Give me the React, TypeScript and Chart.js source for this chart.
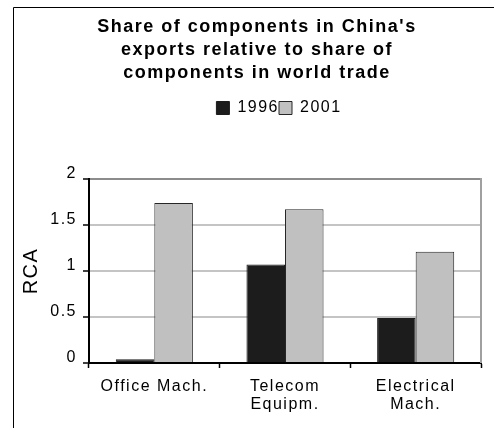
import React, { useEffect, useRef } from "react";
import { Chart, registerables } from "chart.js";

Chart.register(...registerables);

const titleLines = [
  "Share of components in China's",
  "exports relative to share of",
  "components in world trade",
];
const categories = [["Office Mach."], ["Telecom", "Equipm."], ["Electrical", "Mach."]];
const seriesNames = ["1996", "2001"];
const values1996 = [0.04, 1.07, 0.49];
const values2001 = [1.74, 1.67, 1.21];
const yTickValues = [0, 0.5, 1, 1.5, 2];
const yAxisTitle = "RCA";

const FONT = '"Liberation Sans", Arial, Helvetica, sans-serif';

const layoutPlugin = {
  id: "layoutTweaks",
  beforeInit(chart: any) {
    const legend = chart.legend;
    if (legend) {
      const orig = legend.fit;
      legend.fit = function () {
        orig.call(this);
        this.height += 53;
      };
    }
  },
  beforeUpdate(chart: any) {
    chart.ctx.letterSpacing = "1.5px";
  },
  afterLayout(chart: any) {
    if (chart.legend) {
      chart.legend.left += 22;
      chart.legend.right += 22;
    }
  },
  beforeDraw(chart: any) {
    chart.ctx.letterSpacing = "1.5px";
  },
  afterDraw(chart: any) {
    const { ctx, chartArea } = chart;
    ctx.save();
    ctx.strokeStyle = "#000";
    ctx.lineWidth = 1;
    ctx.beginPath();
    ctx.moveTo(13.5, chart.height);
    ctx.lineTo(13.5, 7.5);
    ctx.lineTo(chart.width, 7.5);
    ctx.stroke();
    ctx.strokeStyle = "#a0a0a0";
    ctx.lineWidth = 2;
    ctx.beginPath();
    ctx.moveTo(chartArea.right, chartArea.top - 1);
    ctx.lineTo(chartArea.right, chartArea.bottom);
    ctx.stroke();
    ctx.restore();
  },
};

export default function App() {
  const ref = useRef<HTMLCanvasElement | null>(null);

  useEffect(() => {
    if (!ref.current) return;
    Chart.defaults.font.family = FONT;
    Chart.defaults.color = "#000";
    const chart = new Chart(ref.current, {
      type: "bar",
      data: {
        labels: categories,
        datasets: [
          {
            label: seriesNames[0],
            data: values1996,
            backgroundColor: "#1c1c1c",
            borderColor: "#1c1c1c",
            borderWidth: 1,
            categoryPercentage: 0.59,
            barPercentage: 1,
          },
          {
            label: seriesNames[1],
            data: values2001,
            backgroundColor: "#c0c0c0",
            borderColor: "#262626",
            borderWidth: 1,
            categoryPercentage: 0.59,
            barPercentage: 1,
          },
        ],
      },
      options: {
        animation: false,
        responsive: true,
        maintainAspectRatio: false,
        layout: { padding: { left: 33, right: 13, top: 0, bottom: 2 } },
        plugins: {
          title: {
            display: true,
            text: titleLines,
            color: "#000",
            font: { size: 18, weight: "bold", lineHeight: 1.3, family: FONT },
            padding: { top: 15, bottom: 14.8 },
          },
          legend: {
            display: true,
            position: "top",
            labels: {
              color: "#000",
              font: { size: 16, family: FONT },
              boxWidth: 13,
              boxHeight: 13,
              padding: 0,
            },
          },
          tooltip: { enabled: false },
        },
        scales: {
          x: {
            type: "category",
            offset: true,
            grid: {
              display: true,
              drawOnChartArea: false,
              drawTicks: true,
              tickLength: 5,
              tickColor: "#000",
              tickWidth: 1.5,
              offset: true,
            },
            border: { display: true, color: "#000", width: 2 },
            ticks: {
              color: "#000",
              font: { size: 16, lineHeight: 1.1, family: FONT },
              padding: 10,
              maxRotation: 0,
              autoSkip: false,
            },
            afterFit: (s: any) => {
              s.height = 63;
            },
          },
          y: {
            min: 0,
            max: 2,
            afterBuildTicks: (s: any) => {
              s.ticks = yTickValues.map((v) => ({ value: v }));
            },
            ticks: {
              color: "#000",
              font: { size: 16, family: FONT },
              padding: 6,
              labelOffset: -5,
              callback: (v: any) => String(v),
            },
            grid: {
              color: (c: any) => {
                const v = c.tick ? c.tick.value : null;
                if (v === 2) return "#8c8c8c";
                if (v === 0) return "#000";
                return "#c4c4c4";
              },
              lineWidth: 2,
              tickColor: "#000",
              tickLength: 6,
              tickWidth: 1.5,
            },
            border: { display: true, color: "#000", width: 2 },
            title: {
              display: true,
              text: yAxisTitle,
              color: "#000",
              font: { size: 20, lineHeight: 1.2, family: FONT },
              padding: { top: -14, bottom: 0 },
            },
            afterFit: (s: any) => {
              s.width = 56;
            },
          },
        },
      },
      plugins: [layoutPlugin],
    } as any);
    return () => chart.destroy();
  }, []);

  return (
    <div
      style={{
        position: "absolute",
        left: 0,
        top: 0,
        width: 494,
        height: 428,
        background: "#fff",
      }}
    >
      <canvas ref={ref} />
    </div>
  );
}
